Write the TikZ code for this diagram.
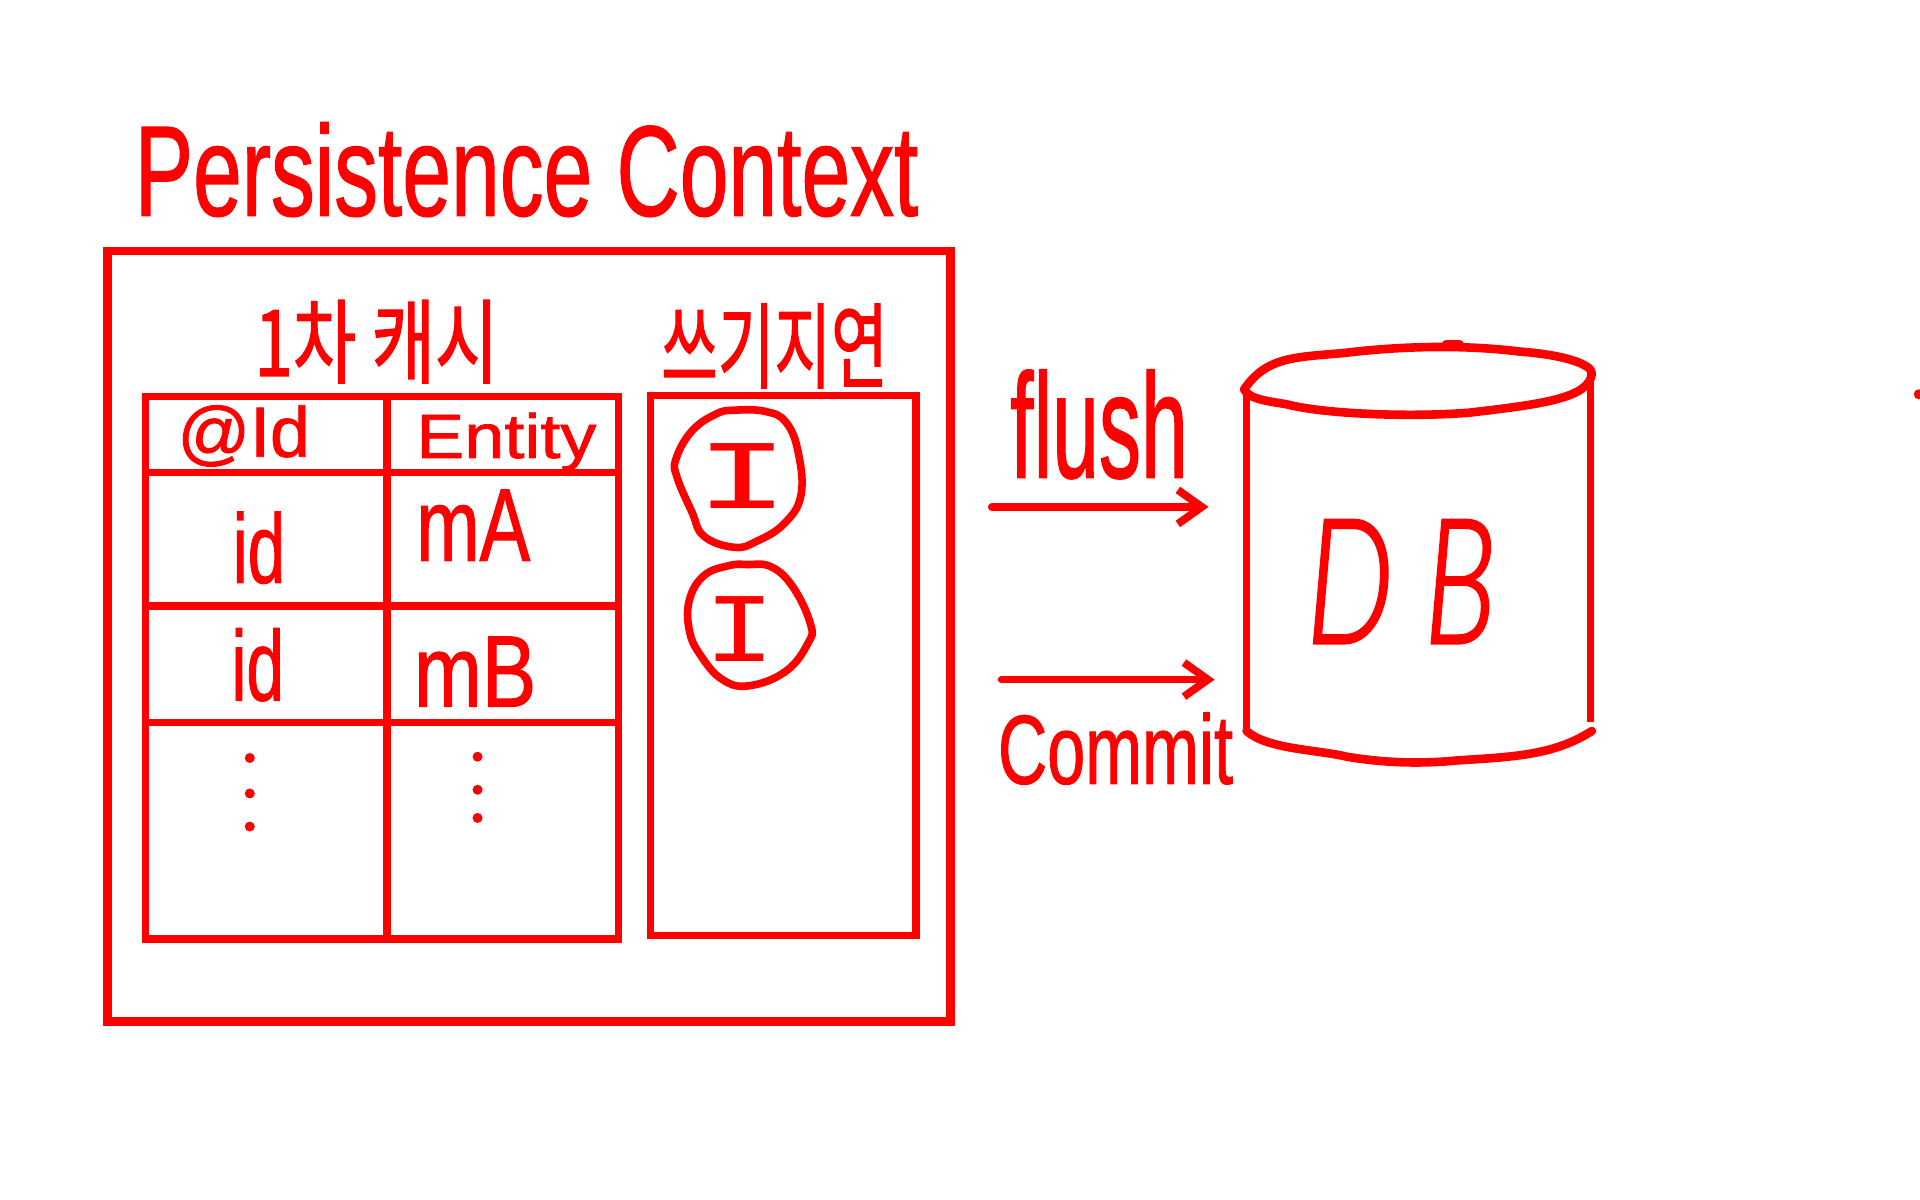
\documentclass[tikz,border=0pt]{standalone}
\usepackage{graphicx}
\usepackage{fontspec}
\setmainfont{Liberation Sans}[FakeBold=1.2]
\setmonofont{Liberation Mono}
\newfontfamily\krfont{Noto Sans CJK KR}[FakeBold=1.6]
\usetikzlibrary{arrows.meta}
\definecolor{ink}{RGB}{255,0,0}
\tikzset{
  txt/.style={inner sep=0pt,outer sep=0pt,text=ink,anchor=base west},
  heavy/.style={draw=ink,line width=4.3pt},
  rule/.style={draw=ink,line width=3.7pt},
  sketch/.style={draw=ink,line width=4.3pt,line cap=round,line join=round},
  loop/.style={draw=ink,line width=3.8pt,line cap=round,line join=round},
  side/.style={draw=ink,line width=3.4pt},
  flow/.style={draw=ink,line width=3.9pt,line cap=round,-{Straight Barb[length=12pt,width=17pt,line width=3.9pt]}},
  dotmark/.style={fill=ink,circle,inner sep=0pt,minimum size=5pt}
}
\newcommand{\hw}[6]{%
  \pgfmathsetlengthmacro\fw{(#4-#2)*0.6122}%
  \pgfmathsetlengthmacro\fh{(#5-#3)*0.6122}%
  \node[txt] (#1) at (#2,#5) {\resizebox{\fw}{\fh}{#6}};}
\begin{document}
\begin{tikzpicture}[x=0.6122pt,y=-0.6122pt]
\useasboundingbox (0,0) rectangle (1568,980);
% title
\hw{title}{110}{100}{750}{176}{Persistence Context}
% outer box
\draw[heavy] (88,205) rectangle (776,834);
% headings
\hw{cache}{208}{245}{407}{307}{\krfont 1차 캐시}
\hw{delay}{540}{248}{725}{311}{\krfont 쓰기지연}
% table
\draw[rule] (119,324) rectangle (505,767);
\draw[rule] (316,324) -- (316,767);
\draw[rule] (119,386) -- (505,386);
\draw[rule] (119,495) -- (503,495);
\draw[rule] (119,590) -- (505,590);
\hw{hid}{145}{331}{253}{373}{@Id}
\hw{hent}{340}{337}{487}{374}{Entity}
\hw{ida}{190}{418}{233}{476}{id}
\hw{ma}{340}{400}{433}{458}{mA}
\hw{idb}{189}{513}{232}{572}{id}
\hw{mb}{338}{520}{438}{577}{mB}
\node[dotmark] (d1) at (204,619) {};
\node[dotmark] (d2) at (204,648) {};
\node[dotmark] (d3) at (204,675) {};
\node[dotmark] (d4) at (390,618) {};
\node[dotmark] (d5) at (390,645) {};
\node[dotmark] (d6) at (390,668) {};
% write-behind store
\draw[rule] (531,323) rectangle (748,764);
\draw[loop] plot[smooth cycle,tension=0.7] coordinates {(600,335)(625,336)(642,345)(652,370)(654,405)(640,428)(618,442)(600,447)(575,438)(565,418)(553,390)(552,375)(565,352)(585,338)};
\draw[loop] plot[smooth cycle,tension=0.7] coordinates {(610,461)(630,463)(648,480)(662,510)(660,525)(642,548)(612,560)(590,555)(572,535)(563,515)(563,490)(575,470)(595,462)};
\hw{ione}{568}{362}{645}{415}{\ttfamily I}
\hw{itwo}{575}{487}{633}{540}{\ttfamily I}
% arrows
\coordinate (fa) at (810,414);
\coordinate (fb) at (987,414);
\coordinate (ca) at (818,555);
\coordinate (cb) at (992,555);
\draw[flow] (fa) -- (fb);
\draw[flow] (ca) -- (cb);
\hw{flush}{825}{302}{970}{390}{flush}
\hw{commit}{815}{582}{1007}{640}{Commit}
% database
\draw[sketch] (1016,318) .. controls (1035,290) and (1060,292) .. (1100,288)
  .. controls (1150,282) and (1200,282) .. (1240,287)
  .. controls (1280,290) and (1300,298) .. (1300,305)
  .. controls (1298,325) and (1260,330) .. (1200,337)
  .. controls (1150,341) and (1080,338) .. (1050,330)
  .. controls (1030,327) and (1020,325) .. (1016,318) -- cycle;
\draw[sketch] (1181,281) -- (1192,281);
\draw[side] (1018,320) -- (1018,597);
\draw[side] (1299,305) -- (1299,590);
\draw[sketch] (1018,597) .. controls (1035,612) and (1075,612) .. (1100,618)
  .. controls (1130,623) and (1160,624) .. (1190,621)
  .. controls (1240,618) and (1270,616) .. (1300,597);
\hw{db}{1067}{425}{1222}{525}{\fontspec{Lato Light}[FakeBold=2]\itshape D B}
% stray mark at the right edge
\node[dotmark] (stray) at (1567,322) {};
\end{tikzpicture}
\end{document}
